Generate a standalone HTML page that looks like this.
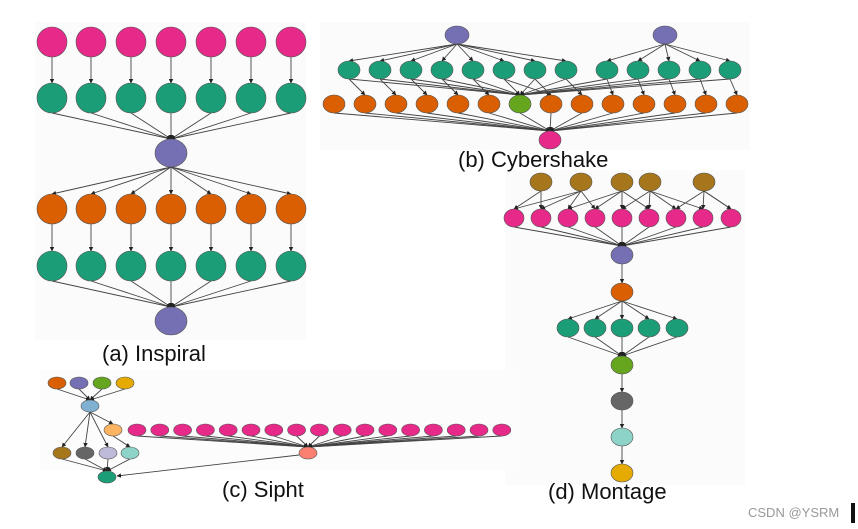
<!DOCTYPE html>
<html><head><meta charset="utf-8"><style>
body{margin:0;background:#fff;width:858px;height:529px;overflow:hidden;position:relative;font-family:"Liberation Sans",sans-serif}
svg{position:absolute;left:0;top:0}
.l{position:absolute;font-size:22px;color:#111;white-space:nowrap}
</style></head><body>
<svg id="s" width="858" height="529" xmlns="http://www.w3.org/2000/svg">
<defs><marker id="a" viewBox="0 0 10 10" refX="9" refY="5" markerWidth="5" markerHeight="5" orient="auto"><path d="M0,0L10,5L0,10z" fill="#222"/></marker></defs>
<rect x="35" y="22" width="271" height="318" fill="#fbfbfb"/>
<rect x="320" y="22" width="430" height="128" fill="#fbfbfb"/>
<rect x="505" y="170" width="240" height="315" fill="#fbfbfb"/>
<rect x="40" y="370" width="480" height="100" fill="#fcfcfc"/>
<g id="e"></g><g id="n"></g>
</svg>
<div class="l" style="left:102px;top:341px">(a) Inspiral</div>
<div class="l" style="left:458px;top:147px">(b) Cybershake</div>
<div class="l" style="left:222px;top:477px">(c) Sipht</div>
<div class="l" style="left:548px;top:479px">(d) Montage</div>
<div style="position:absolute;left:748px;top:505px;font-size:13px;color:#999">CSDN @YSRM</div>
<div style="position:absolute;left:851px;top:503px;width:4px;height:20px;background:#111"></div>
<script>
var E=document.getElementById('e'),N=document.getElementById('n'),ns='http://www.w3.org/2000/svg';
var C={pk:'#e7298a',gr:'#1b9e77',pu:'#7570b3',or:'#d95f02',li:'#66a61e',br:'#a6761d',ye:'#e6ab02',dg:'#666',tl:'#8dd3c7',lb:'#80b1d3',lo:'#fdb462',lv:'#bebada',sa:'#fb8072',gd:'#1b9e77'};
function node(x,y,rx,ry,c){var e=document.createElementNS(ns,'ellipse');e.setAttribute('cx',x);e.setAttribute('cy',y);e.setAttribute('rx',rx);e.setAttribute('ry',ry);e.setAttribute('fill',C[c]);e.setAttribute('stroke','#555');e.setAttribute('stroke-width','0.6');N.appendChild(e);return {x:x,y:y,ry:ry};}
function edge(a,b){var l=document.createElementNS(ns,'line');l.setAttribute('x1',a.x);l.setAttribute('y1',a.y+a.ry);l.setAttribute('x2',b.x);l.setAttribute('y2',b.y-b.ry);l.setAttribute('stroke','#444');l.setAttribute('stroke-width','0.9');l.setAttribute('marker-end','url(#a)');E.appendChild(l);}
var X=[52,91,131,171,211,251,291];
var r1=X.map(x=>node(x,42,15,15,'pk')),r2=X.map(x=>node(x,98,15,15,'gr'));
var c1=node(171,153,16,14,'pu');
var r3=X.map(x=>node(x,209,15,15,'or')),r4=X.map(x=>node(x,266,15,15,'gr'));
var c2=node(171,321,16,14,'pu');
X.forEach((x,i)=>{edge(r1[i],r2[i]);edge(r2[i],c1);edge(c1,r3[i]);edge(r3[i],r4[i]);edge(r4[i],c2);});
var p1=node(457,35,12,9,'pu'),p2=node(665,35,12,9,'pu');
var G=[349,380,411,442,473,504,535,566,607,638,669,700,730].map(x=>node(x,70,11,9,'gr'));
var OX=[334,365,396,427,458,489,520,551,582,613,644,675,706,737];
var O=OX.map((x,i)=>node(x,104,11,9,i==6?'li':'or'));
var pk=node(550,140,11,9,'pk');
G.forEach((g,i)=>{edge(i<8?p1:p2,g);var j=i+1;if(j==6)j=7;edge(g,O[Math.min(j,13)]);edge(g,O[6]);});
O.forEach(o=>edge(o,pk));
var B=[541,581,622,650,704].map(x=>node(x,182,11,9,'br'));
var P=[514,541,568,595,622,649,676,703,731].map(x=>node(x,218,10,9,'pk'));
P.forEach((p,i)=>{edge(B[Math.min(Math.floor(i*5/9),4)],p);edge(B[Math.min(Math.floor(i*5/9)+1,4)],p);});
var mp=node(622,255,11,9,'pu');P.forEach(p=>edge(p,mp));
var mo=node(622,292,11,9,'or');edge(mp,mo);
var MG=[568,595,622,649,677].map(x=>node(x,328,11,9,'gr'));
var ml=node(622,365,11,9,'li');MG.forEach(g=>{edge(mo,g);edge(g,ml);});
var m1=node(622,401,11,9,'dg'),m2=node(622,437,11,9,'tl'),m3=node(622,473,11,9,'ye');edge(ml,m1);edge(m1,m2);edge(m2,m3);
var T=[[57,'or'],[79,'pu'],[102,'li'],[125,'ye']].map(a=>node(a[0],383,9,6,a[1]));
var bl=node(90,406,9,6,'lb');T.forEach(t=>edge(t,bl));
var lo=node(113,430,9,6,'lo');edge(bl,lo);
var sa=node(308,453,9,6,'sa');
for(var i=0;i<17;i++){var p=node(137+i*22.8,430,9,6,'pk');edge(p,sa);}
var BB=[[62,'br'],[85,'dg'],[108,'lv'],[130,'tl']].map(a=>node(a[0],453,9,6,a[1]));
edge(bl,BB[0]);edge(bl,BB[1]);edge(bl,BB[2]);edge(lo,BB[3]);
var gd=node(107,477,9,6,'gd');BB.forEach(b=>edge(b,gd));
var l=document.createElementNS(ns,'line');l.setAttribute('x1',299);l.setAttribute('y1',455);l.setAttribute('x2',117);l.setAttribute('y2',476);l.setAttribute('stroke','#444');l.setAttribute('stroke-width','0.9');l.setAttribute('marker-end','url(#a)');E.appendChild(l);
</script>
</body></html>
